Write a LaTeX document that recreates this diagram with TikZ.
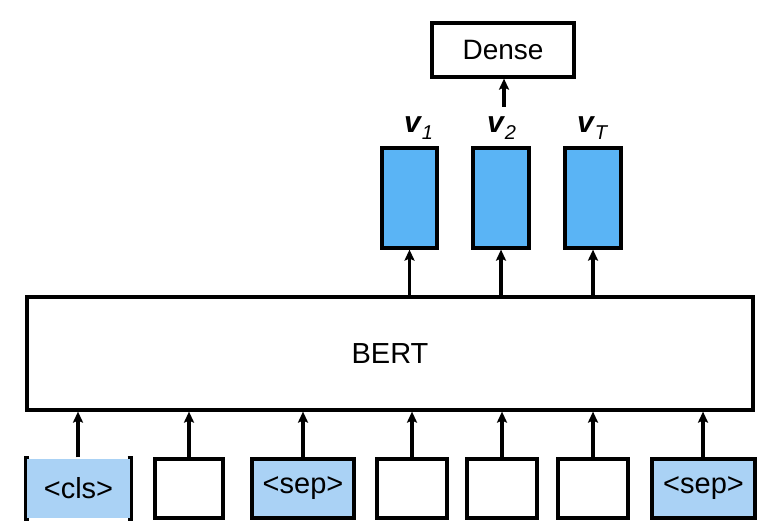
\documentclass[tikz,border=0pt]{standalone}
\usepackage{fontspec}
\setmainfont{Liberation Sans}
\usetikzlibrary{arrows.meta,calc}
\definecolor{vblue}{RGB}{90,180,245}
\definecolor{tblue}{RGB}{170,210,245}
\tikzset{
  box/.style={draw=black, line width=3.2pt, inner sep=0pt, anchor=center},
  arr/.style={line width=3.2pt, -{Stealth[length=11pt,width=10pt,inset=2pt]}},
  tok/.style={box, minimum height=59pt, font=\fontsize{29}{31}\selectfont},
  vec/.style={box, fill=vblue, minimum width=55pt, minimum height=100pt},
  vlab/.style={inner sep=0pt, anchor=base west}
}
\newcommand{\vlabel}[1]{{\fontsize{30}{32}\selectfont\bfseries\itshape v}\hspace{1pt}\raisebox{-7pt}{\fontsize{20}{22}\selectfont\itshape #1}}
\begin{document}
\begin{tikzpicture}[x=1pt,y=-1pt]
\useasboundingbox (0,0) rectangle (775,526);
% BERT
\node[box, minimum width=726pt, minimum height=113pt, font=\fontsize{29}{31}\selectfont] (bert) at (390,353.5) {BERT};
% tokens
\node[tok, fill=tblue, draw=none, minimum width=103pt] (t1) at (78.5,488.5) {<cls>};
\draw[line width=3.6pt] ($(t1.north west)+(4,0)$) -- (t1.north west) -- (t1.south west) -- ($(t1.south west)+(4,0)$);
\draw[line width=3.6pt] ($(t1.north east)+(-4,0)$) -- (t1.north east) -- (t1.south east) -- ($(t1.south east)+(-4,0)$);
\node[tok, minimum width=68pt] (t2) at (189,488.5) {};
\node[tok, fill=tblue, minimum width=102pt] (t3) at (303,488.5) {<sep>};
\node[tok, minimum width=70pt] (t4) at (412,488.5) {};
\node[tok, minimum width=70pt] (t5) at (502,488.5) {};
\node[tok, minimum width=70pt] (t6) at (593,488.5) {};
\node[tok, fill=tblue, minimum width=103pt] (t7) at (703.5,488.5) {<sep>};
\foreach \t/\xx in {t1/78,t2/189,t3/303,t4/412,t5/502,t6/593,t7/703}{
  \draw[arr] (\xx,0 |- \t.north) -- (\xx,0 |- bert.south);
}
% vectors
\node[vec] (v1) at (409.5,198) {};
\node[vec, minimum width=56pt] (v2) at (501,198) {};
\node[vec, minimum width=56pt] (vT) at (593,198) {};
\foreach \v in {v1,v2,vT}{
  \draw[arr] (bert.north -| \v) -- (\v.south);
}
% labels
\node[vlab] (l1) at (404,133) {\vlabel{1}};
\node[vlab] (l2) at (487,133) {\vlabel{2}};
\node[vlab] (lT) at (577,133) {\vlabel{T}};
% dense
\node[box, minimum width=142pt, minimum height=54pt, font=\fontsize{28}{30}\selectfont] (dense) at (503,50) {Dense};
\coordinate (d0) at (504,107);
\draw[arr] (d0) -- (d0 |- dense.south);
\end{tikzpicture}
\end{document}
